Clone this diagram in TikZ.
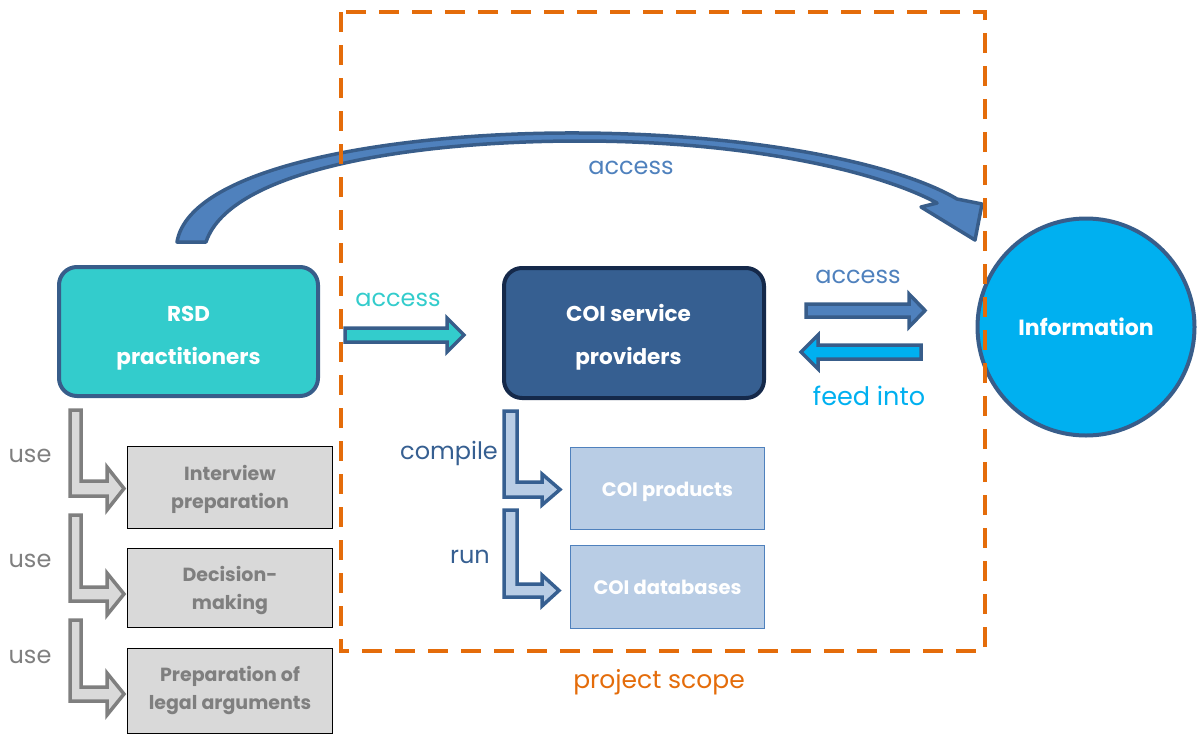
\documentclass[tikz,border=0pt]{standalone}
\usepackage{fontspec}
\setmainfont{Poppins}
\definecolor{orangeD}{HTML}{E46C0A}
\definecolor{turq}{HTML}{33CCCC}
\definecolor{edgeblue}{HTML}{385D8A}
\definecolor{coiblue}{HTML}{365F91}
\definecolor{navy}{HTML}{15294A}
\definecolor{infoblue}{HTML}{00B0F0}
\definecolor{midblue}{HTML}{4F81BD}
\definecolor{lightblue}{HTML}{B9CDE5}
\definecolor{grayfill}{HTML}{D9D9D9}
\definecolor{graytext}{HTML}{7F7F7F}
\tikzset{
  mainbox/.style={rounded corners=18pt, line width=4pt, text=white, align=center, inner sep=0pt,
    font=\bfseries\fontsize{21.5}{43}\selectfont},
  graybox/.style={draw=black, line width=1pt, fill=grayfill, text=graytext, align=center, inner sep=0pt,
    minimum width=205pt, font=\bfseries\fontsize{19}{28}\selectfont},
  coibox/.style={draw=midblue, line width=1pt, fill=lightblue, text=white, align=center, inner sep=0pt,
    minimum width=194pt, font=\bfseries\fontsize{19.5}{29}\selectfont},
  lbl/.style={anchor=base, inner sep=0pt, font=\fontsize{24}{28}\selectfont},
  grayarrow/.style={draw=graytext, fill=grayfill, line width=3.5pt, line join=miter},
  bluearrow/.style={draw=coiblue, fill=lightblue, line width=3.5pt, line join=miter},
  flatarrow/.style={draw=edgeblue, line width=3.5pt, line join=miter},
  scope line/.style={draw=orangeD, line width=4pt, dash pattern=on 20pt off 13pt},
}
\begin{document}
\begin{tikzpicture}[x=1pt,y=-1pt]
\useasboundingbox (0,0) rectangle (1198,734);

% curved access arrow
\path[draw=edgeblue, fill=midblue, line width=3.5pt, line join=round]
  (177,242) .. controls (190,165) and (400,132) .. (580,133)
  .. controls (760,134) and (900,165) .. (957,199)
  -- (982,204) -- (975,240) -- (921,207) -- (937,203)
  .. controls (880,172) and (750,141) .. (580,141)
  .. controls (410,141) and (230,170) .. (206,242) -- cycle;
\node[lbl, text=midblue] (accTop) at (631,174) {access};

% main nodes
\node[mainbox, fill=turq, draw=edgeblue, minimum width=259pt, minimum height=129pt] (rsd) at (188.5,331.5) {\rule{0pt}{29pt}RSD\\practitioners};
\node[mainbox, fill=coiblue, draw=navy, minimum width=260pt, minimum height=130pt] (coi) at (634,333) {\rule{0pt}{26pt}COI service\hspace*{11pt}\\providers\hspace*{11pt}};
\node[circle, draw=edgeblue, line width=4pt, fill=infoblue, minimum size=217pt, inner sep=0pt,
  text=white, font=\bfseries\fontsize{22}{24}\selectfont] (info) at (1086,327) {Information};

% gray boxes
\node[graybox, minimum height=82pt] (ip) at (230,487) {\rule{0pt}{20pt}Interview\\preparation};
\node[graybox, minimum height=79pt] (dm) at (230,587.5) {\rule{0pt}{21pt}Decision-\\making};
\node[graybox, minimum height=85pt] (la) at (230,690.5) {Preparation of\\legal arguments};

% COI product boxes
\node[coibox, minimum height=82pt] (prod) at (667.5,488) {\rule{0pt}{23pt}COI products};
\node[coibox, minimum height=83pt] (db) at (667.5,586.5) {\rule{0pt}{17pt}COI databases};

% straight arrows
\draw[flatarrow, fill=turq] (345,328) -- (447,328) -- (447,318) -- (464,335) -- (447,352) -- (447,342) -- (345,342) -- cycle;
\node[lbl, text=turq] (accL) at (398,306) {access};
\draw[flatarrow, fill=midblue] (806,304) -- (909,304) -- (909,294) -- (925,310.5) -- (909,327) -- (909,317) -- (806,317) -- cycle;
\node[lbl, text=midblue] (accR) at (858,283) {access};
\draw[flatarrow, fill=infoblue] (921,345) -- (818,345) -- (818,335) -- (801,352) -- (818,369) -- (818,359) -- (921,359) -- cycle;
\node[lbl, text=infoblue, font=\fontsize{25.5}{28}\selectfont] (feed) at (869,405) {feed into};

% compile / run
\draw[bluearrow] (504,411) -- (517,411) -- (517,482) -- (542,482) -- (542,474) -- (560,489.5) -- (542,505) -- (542,497) -- (504,497) -- cycle;
\node[lbl, text=coiblue] (compile) at (449,459) {compile};
\draw[bluearrow] (504,510) -- (517,510) -- (517,584) -- (542,584) -- (542,575) -- (559,590.5) -- (542,606) -- (542,597) -- (504,597) -- cycle;
\node[lbl, text=coiblue] (run) at (470,563) {run};

% use arrows
\draw[grayarrow] (70,410) -- (81,410) -- (81,481) -- (107,481) -- (107,467) -- (124,488.5) -- (107,510) -- (107,496) -- (70,496) -- cycle;
\node[lbl, text=graytext] (use1) at (30,462) {use};
\draw[grayarrow] (70,515) -- (81,515) -- (81,587) -- (107,587) -- (107,573) -- (124,594) -- (107,615) -- (107,601) -- (70,601) -- cycle;
\node[lbl, text=graytext] (use2) at (30,567) {use};
\draw[grayarrow] (70,620) -- (81,620) -- (81,687) -- (107,687) -- (107,673) -- (124,694) -- (107,715) -- (107,701) -- (70,701) -- cycle;
\node[lbl, text=graytext] (use3) at (30,663) {use};

% project scope
\draw[scope line] (341,12) rectangle (985,651);
\node[lbl, text=orangeD, font=\fontsize{25}{28}\selectfont] (scope) at (659,688) {project scope};
\end{tikzpicture}
\end{document}
